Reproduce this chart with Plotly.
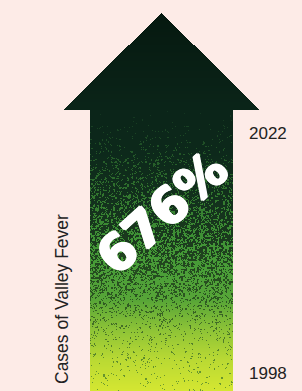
import numpy as np
import plotly.graph_objects as go

# ---- data ----
years = [1998, 2022]
year_labels = ["1998", "2022"]
pct_change = 676
axis_title = "Cases of Valley Fever"

# ---- figure setup ----
W, H = 302, 391
bg = "#fdebe7"

# arrow geometry in pixel space (decorative shape)
tip_x, tip_y = 161.5, 13
head_l, head_r, head_y = 63, 260, 110
shaft_l, shaft_r = 90, 233
bottom = H

x_cols = np.arange(head_l, head_r) + 0.5
y_rows = np.arange(tip_y, bottom) + 0.5
XX, YY = np.meshgrid(x_cols, y_rows)

half = (head_r - head_l) / 2.0
in_head = (YY <= head_y) & (np.abs(XX - tip_x) <= (YY - tip_y) * half / (head_y - tip_y))
in_shaft = (YY > head_y) & (XX >= shaft_l) & (XX <= shaft_r)
mask = in_head | in_shaft

# texture colour stops (vertical)
ys = [13, 110, 150, 200, 240, 270, 300, 330, 360, 391]
dark = np.array([(6, 25, 16), (11, 37, 25), (13, 41, 27), (19, 49, 29), (27, 58, 30),
                 (36, 74, 32), (45, 88, 34), (72, 115, 40), (96, 142, 45), (110, 156, 48)], float)
light = np.array([(6, 25, 16), (18, 50, 32), (34, 84, 40), (52, 122, 48), (64, 148, 54),
                  (74, 158, 56), (88, 166, 56), (142, 196, 55), (186, 218, 52), (213, 231, 50)], float)
p_y = [110, 130, 160, 200, 230, 255, 275, 295, 315, 340, 391]
p_v = [1.0, 0.97, 0.9, 0.74, 0.6, 0.5, 0.4, 0.27, 0.13, 0.06, 0.03]

def interp_rgb(stops, yv):
    return np.stack([np.interp(yv, ys, stops[:, k]) for k in range(3)], axis=-1)

D = interp_rgb(dark, YY)
L = interp_rgb(light, YY)
P = np.interp(YY, p_y, p_v)
P[YY <= head_y] = 1.0

rng = np.random.default_rng(3)
fine = rng.random(YY.shape)
coarse = rng.random(((YY.shape[0] + 1) // 2, (YY.shape[1] + 1) // 2))
coarse = np.kron(coarse, np.ones((2, 2)))[:YY.shape[0], :YY.shape[1]]
comb = 0.55 * coarse + 0.45 * fine
noise = comb.ravel().argsort().argsort().reshape(comb.shape) / comb.size

is_dark = noise < P
rgb = np.where(is_dark[..., None], D, L)
alpha = np.where(mask, 255, 0)
img = np.concatenate([rgb, alpha[..., None]], axis=-1).astype(np.uint8)

fig = go.Figure()
fig.add_trace(go.Image(z=img, colormodel="rgba", x0=head_l + 0.5, dx=1,
                       y0=tip_y + 0.5, dy=1, hoverinfo="skip"))
# invisible trace on the year axis
fig.add_trace(go.Scatter(x=[268, 268], y=years, yaxis="y2", mode="markers",
                         marker=dict(opacity=0), hoverinfo="skip", showlegend=False))

lab_font = "Liberation Sans, Arial, sans-serif"
ann = []
for yr, lab in zip(years, year_labels):
    ann.append(dict(x=268, y=yr, xref="x", yref="y2", text=lab, showarrow=False,
                    font=dict(family=lab_font, size=17, color="#222222")))
ann.append(dict(x=62, y=299, xref="x", yref="y", text=axis_title, textangle=-90,
                showarrow=False,
                font=dict(family=lab_font, size=17.5, color="#222222")))
ann.append(dict(x=162, y=213, xref="x", yref="y", text=f"{pct_change}%", textangle=-42,
                showarrow=False,
                font=dict(family="DejaVu Sans", size=50, color="#ffffff", weight="bold",
                          shadow="1px 0 0 #fff, -1px 0 0 #fff, 0 1px 0 #fff, 0 -1px 0 #fff, "
                                 "1px 1px 0 #fff, -1px -1px 0 #fff")))

fig.update_layout(
    width=W, height=H, margin=dict(l=0, r=0, t=0, b=0),
    paper_bgcolor=bg, plot_bgcolor=bg, showlegend=False,
    xaxis=dict(range=[0, W], visible=False, fixedrange=True),
    yaxis=dict(range=[H, 0], visible=False, fixedrange=True),
    yaxis2=dict(range=[1996.2, 2035.3], overlaying="y", visible=False, fixedrange=True),
    annotations=ann,
)
fig.write_html("out.html", config={"displayModeBar": False},
               post_script="document.body.style.margin='0';")
